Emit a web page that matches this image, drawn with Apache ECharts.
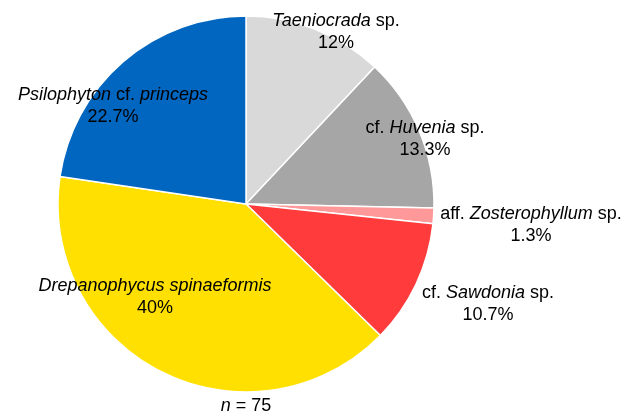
<!DOCTYPE html>
<html>
<head>
<meta charset="utf-8">
<script src="https://cdn.jsdelivr.net/npm/echarts@6/dist/echarts.min.js"></script>
<style>
  html, body { margin: 0; padding: 0; background: #fff; }
  #chart { width: 637px; height: 418px; }
</style>
</head>
<body>
<div id="chart"></div>
<script>
// specimen counts, n = 75, clockwise from 12 o'clock
const prefixes = ['', 'cf. ', 'aff. ', 'cf. ', '', ''];
const genera = ['Taeniocrada', 'Huvenia', 'Zosterophyllum', 'Sawdonia', 'Drepanophycus spinaeformis', 'Psilophyton'];
const suffixes = [' sp.', ' sp.', ' sp.', ' sp.', '', ' cf. '];
const trailing = ['', '', '', '', '', 'princeps'];
const counts = [9, 10, 1, 8, 30, 17];
const percentLabels = ['12%', '13.3%', '1.3%', '10.7%', '40%', '22.7%'];
const colors = ['#d9d9d9', '#a6a6a6', '#ff9999', '#ff3b3b', '#ffe000', '#0066c0'];
const total = 75;

// where each label sits (centre of text block)
const labelPos = [[336, 32], [425, 139], [531, 225], [488, 304], [155, 297], [113, 106]];

const chart = echarts.init(document.getElementById('chart'));

const data = genera.map((g, i) => ({
  value: counts[i],
  name: prefixes[i] + g + suffixes[i] + trailing[i],
  itemStyle: { color: colors[i] }
}));

const font = 'Liberation Sans, Arial, sans-serif';

chart.setOption({
  animation: false,
  textStyle: { fontFamily: font },
  series: [{
    type: 'pie',
    center: [246, 204],
    radius: [0, 188],
    startAngle: 90,
    clockwise: true,
    silent: true,
    itemStyle: { borderColor: '#fff', borderWidth: 1.5 },
    labelLine: { show: false },
    label: {
      show: true,
      position: 'inside',
      color: '#000',
      fontSize: 18,
      lineHeight: 22,
      align: 'center',
      formatter: (p) => {
        const i = p.dataIndex;
        let s = prefixes[i] + '{i|' + genera[i] + '}' + suffixes[i];
        if (trailing[i]) s += '{i|' + trailing[i] + '}';
        return s + '\n' + percentLabels[i];
      },
      rich: {
        i: { fontStyle: 'italic', fontSize: 18, lineHeight: 22, color: '#000' }
      }
    },
    labelLayout: (p) => ({
      x: labelPos[p.dataIndex][0],
      y: labelPos[p.dataIndex][1],
      align: 'center',
      verticalAlign: 'middle'
    }),
    data: data
  }],
  graphic: [{
    type: 'text',
    style: {
      x: 246,
      y: 406,
      align: 'center',
      verticalAlign: 'middle',
      text: '{i|n} = ' + total,
      fontSize: 18,
      fill: '#000',
      fontFamily: font,
      rich: { i: { fontStyle: 'italic', fontSize: 18 } }
    }
  }]
});
</script>
</body>
</html>
